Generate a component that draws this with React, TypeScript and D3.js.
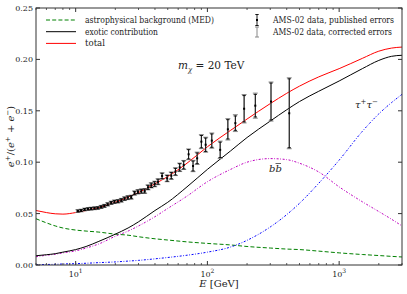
import React from 'react';
import * as d3 from 'd3';

// model curves
const modelEnergy = [5, 6, 7, 8, 10, 12, 15, 20, 25, 30, 40, 50, 70, 100, 150, 200, 300, 400, 500, 700, 1000, 1500, 2000, 2500, 3000];
const background = [0.045, 0.041, 0.038, 0.036, 0.034, 0.033, 0.032, 0.030, 0.029, 0.0275, 0.0255, 0.0243, 0.0225, 0.021, 0.0195, 0.018, 0.0165, 0.0155, 0.015, 0.0135, 0.0118, 0.0102, 0.0092, 0.0084, 0.0078];
const exotic = [0.009, 0.010, 0.011, 0.0125, 0.015, 0.018, 0.023, 0.030, 0.036, 0.042, 0.053, 0.061, 0.076, 0.093, 0.111, 0.124, 0.140, 0.151, 0.159, 0.169, 0.179, 0.191, 0.199, 0.203, 0.204];
const total = [0.053, 0.051, 0.0498, 0.0495, 0.051, 0.053, 0.056, 0.061, 0.066, 0.0705, 0.079, 0.086, 0.099, 0.115, 0.131, 0.142, 0.157, 0.167, 0.174, 0.183, 0.191, 0.201, 0.208, 0.211, 0.212];
const bbbar = [0.008, 0.0095, 0.0105, 0.0118, 0.0137, 0.0165, 0.0205, 0.028, 0.033, 0.038, 0.047, 0.055, 0.067, 0.081, 0.093, 0.100, 0.1035, 0.1025, 0.099, 0.0905, 0.076, 0.0615, 0.052, 0.0445, 0.038];
const tautau = [0.0003, 0.0005, 0.0007, 0.001, 0.0013, 0.0017, 0.0023, 0.003, 0.0038, 0.0045, 0.006, 0.0073, 0.0095, 0.0125, 0.0175, 0.024, 0.037, 0.049, 0.060, 0.0795, 0.102, 0.130, 0.147, 0.158, 0.166];

// AMS-02 positron fraction points
const dataEnergy = [10.4, 11.0, 11.7, 12.4, 13.1, 13.9, 14.7, 15.6, 16.5, 17.5, 18.6, 19.7, 20.9, 22.2, 23.5, 24.9, 26.4, 28.0, 29.7, 31.5, 33.4, 35.4, 37.5, 39.8, 42.2, 45.3, 49.5, 53.2, 57.2, 61.6, 66.1, 72.0, 77.8, 83.6, 90.0, 97.0, 108, 125, 143, 163, 190, 231, 304, 418];
const dataFraction = [0.0525, 0.053, 0.054, 0.0545, 0.0548, 0.0552, 0.0555, 0.0565, 0.0575, 0.059, 0.0605, 0.0615, 0.062, 0.063, 0.0645, 0.0655, 0.066, 0.070, 0.0712, 0.0718, 0.072, 0.0755, 0.0775, 0.0788, 0.081, 0.0866, 0.0843, 0.0869, 0.0908, 0.095, 0.0973, 0.1077, 0.0963, 0.1038, 0.120, 0.117, 0.121, 0.112, 0.132, 0.138, 0.152, 0.155, 0.159, 0.1476];
const errPublished = [0.0009, 0.0009, 0.0009, 0.001, 0.001, 0.001, 0.001, 0.0011, 0.0011, 0.0012, 0.0012, 0.0013, 0.0013, 0.0014, 0.0014, 0.0015, 0.0015, 0.0016, 0.0017, 0.0018, 0.0019, 0.002, 0.0021, 0.0022, 0.0024, 0.0026, 0.0028, 0.003, 0.0032, 0.0035, 0.0038, 0.0045, 0.0048, 0.0052, 0.006, 0.0065, 0.0065, 0.0075, 0.0094, 0.007, 0.0128, 0.011, 0.018, 0.0335];
const errCorrected = [0.0013, 0.0013, 0.0013, 0.0014, 0.0014, 0.0014, 0.0014, 0.0015, 0.0015, 0.0016, 0.0016, 0.0017, 0.0017, 0.0018, 0.0018, 0.0019, 0.0019, 0.002, 0.0021, 0.0022, 0.0023, 0.0024, 0.0025, 0.0027, 0.0029, 0.0031, 0.0033, 0.0036, 0.0038, 0.0041, 0.0044, 0.0052, 0.0055, 0.006, 0.0068, 0.0073, 0.0074, 0.0085, 0.0104, 0.0082, 0.0138, 0.0122, 0.019, 0.0345];

const yTicks = [0, 0.05, 0.1, 0.15, 0.2, 0.25];
const xTicks = [10, 100, 1000];
const xExponents = ['1', '2', '3'];

const W = 407;
const H = 294;
const FONT = '"DejaVu Serif", serif';

export default function App() {
  const left = 36, right = 402, top = 8, bottom = 265;
  const x = d3.scaleLog().domain([5, 3000]).range([left, right]);
  const y = d3.scaleLinear().domain([0, 0.25]).range([bottom, top]);

  const curve = (vals: number[]) =>
    d3.line<number>()
      .x((_, i) => x(modelEnergy[i]))
      .y(d => y(d))
      .curve(d3.curveMonotoneX)(vals) || '';

  // minor ticks on log axis
  const minor: number[] = [];
  for (const dec of [1, 10, 100, 1000]) {
    for (let k = 2; k <= 9; k++) {
      const v = dec * k;
      if (v >= 5 && v <= 3000) minor.push(v);
    }
  }

  const series = [
    { vals: background, color: '#008000', dash: '4,2.2' },
    { vals: bbbar, color: '#bf00bf', dash: '2,1.6,0.8,1.6' },
    { vals: tautau, color: '#0000ff', dash: '2,1.6,0.8,1.6' },
    { vals: exotic, color: '#000000', dash: undefined },
    { vals: total, color: '#ff0000', dash: undefined },
  ];

  const bx = 269;

  return (
    <svg width={W} height={H} style={{ position: 'absolute', left: 0, top: 0, background: '#fff', fontFamily: FONT }}>
      <defs>
        <clipPath id="plot">
          <rect x={left} y={top} width={right - left} height={bottom - top} />
        </clipPath>
      </defs>

      <g clipPath="url(#plot)">
        {series.map((s, i) => (
          <path key={i} d={curve(s.vals)} fill="none" stroke={s.color}
            strokeWidth={1} strokeDasharray={s.dash} />
        ))}

        {/* corrected errors (grey) */}
        {dataEnergy.map((e, i) => {
          const cx = x(e);
          const y1 = y(dataFraction[i] - errCorrected[i]);
          const y2 = y(dataFraction[i] + errCorrected[i]);
          return (
            <g key={'c' + i} stroke="#888" strokeWidth={1}>
              <line x1={cx} x2={cx} y1={y1} y2={y2} />
              <line x1={cx - 2.5} x2={cx + 2.5} y1={y1} y2={y1} />
              <line x1={cx - 2.5} x2={cx + 2.5} y1={y2} y2={y2} />
            </g>
          );
        })}
        {/* published errors (black) */}
        {dataEnergy.map((e, i) => {
          const cx = x(e);
          const y1 = y(dataFraction[i] - errPublished[i]);
          const y2 = y(dataFraction[i] + errPublished[i]);
          return (
            <g key={'p' + i} stroke="#000" strokeWidth={0.9}>
              <line x1={cx} x2={cx} y1={y1} y2={y2} />
              <line x1={cx - 1.7} x2={cx + 1.7} y1={y1} y2={y1} />
              <line x1={cx - 1.7} x2={cx + 1.7} y1={y2} y2={y2} />
              <rect x={cx - 1} y={y(dataFraction[i]) - 1} width={2} height={2} fill="#000" stroke="none" />
            </g>
          );
        })}
      </g>

      {/* frame */}
      <rect x={left} y={top} width={right - left} height={bottom - top} fill="none" stroke="#333" strokeWidth={1} />

      {/* y ticks */}
      {yTicks.map(t => (
        <g key={'y' + t}>
          <line x1={left} x2={left + 4} y1={y(t)} y2={y(t)} stroke="#333" />
          <line x1={right} x2={right - 4} y1={y(t)} y2={y(t)} stroke="#333" />
          <text x={left - 3} y={y(t) + 3} fontSize={8} textAnchor="end" fill="#222">{t.toFixed(2)}</text>
        </g>
      ))}

      {/* x ticks */}
      {xTicks.map((t, i) => (
        <g key={'x' + t}>
          <line x1={x(t)} x2={x(t)} y1={bottom} y2={bottom - 4} stroke="#333" />
          <line x1={x(t)} x2={x(t)} y1={top} y2={top + 4} stroke="#333" />
          <text x={x(t)} y={bottom + 12} fontSize={8} textAnchor="middle" fill="#222">
            10<tspan dy={-4} fontSize={6}>{xExponents[i]}</tspan>
          </text>
        </g>
      ))}
      {minor.map(t => (
        <g key={'m' + t}>
          <line x1={x(t)} x2={x(t)} y1={bottom} y2={bottom - 2} stroke="#333" strokeWidth={0.8} />
          <line x1={x(t)} x2={x(t)} y1={top} y2={top + 2} stroke="#333" strokeWidth={0.8} />
        </g>
      ))}

      {/* axis labels */}
      <text x={(left + right) / 2} y={287} fontSize={10} textAnchor="middle" fill="#222">
        <tspan fontStyle="italic">E</tspan> [GeV]
      </text>
      <text transform={`translate(14,${(top + bottom) / 2}) rotate(-90)`} fontSize={10} textAnchor="middle" fill="#222">
        <tspan fontStyle="italic">e</tspan><tspan dy={-4} fontSize={7}>+</tspan>
        <tspan dy={4}>/(</tspan><tspan fontStyle="italic">e</tspan><tspan dy={-4} fontSize={7}>+</tspan>
        <tspan dy={4}> + </tspan><tspan fontStyle="italic">e</tspan><tspan dy={-4} fontSize={7}>−</tspan>
        <tspan dy={4}>)</tspan>
      </text>

      {/* annotations */}
      <text x={178} y={69} fontSize={10.5} fill="#222">
        <tspan fontStyle="italic">m</tspan><tspan dy={2.5} fontSize={7} fontStyle="italic">χ</tspan>
        <tspan dy={-2.5}> = 20 TeV</tspan>
      </text>
      <text x={bx} y={172} fontSize={10} fill="#222" fontStyle="italic">bb</text>
      <line x1={bx + 6.5} x2={bx + 12} y1={163.5} y2={163.5} stroke="#222" strokeWidth={0.7} />
      <text x={355} y={108} fontSize={10} fill="#222" fontStyle="italic">
        τ<tspan dy={-4} fontSize={7}>+</tspan><tspan dy={4}>τ</tspan><tspan dy={-4} fontSize={7}>−</tspan>
      </text>

      {/* left legend */}
      {[
        { label: 'astrophysical background (MED)', color: '#008000', dash: '4,2.2', len: 129 },
        { label: 'exotic contribution', color: '#000', dash: undefined, len: 73 },
        { label: 'total', color: '#ff0000', dash: undefined, len: 20 },
      ].map((d, i) => {
        const ly = 20 + i * 11.7;
        return (
          <g key={d.label}>
            <line x1={46} x2={76} y1={ly} y2={ly} stroke={d.color} strokeDasharray={d.dash} />
            <text x={85} y={ly + 3} fontSize={8.4} fill="#222" textLength={d.len} lengthAdjust="spacingAndGlyphs">{d.label}</text>
          </g>
        );
      })}

      {/* right legend */}
      <g stroke="#000" strokeWidth={0.9}>
        <line x1={257} x2={257} y1={14.5} y2={25.5} />
        <line x1={255.3} x2={258.7} y1={14.5} y2={14.5} />
        <line x1={255.3} x2={258.7} y1={25.5} y2={25.5} />
        <rect x={256} y={19} width={2} height={2} fill="#000" stroke="none" />
      </g>
      <g stroke="#888" strokeWidth={1}>
        <line x1={257} x2={257} y1={27} y2={37} />
        <line x1={255} x2={259} y1={27} y2={27} />
        <line x1={255} x2={259} y1={37} y2={37} />
      </g>
      <text x={273} y={23} fontSize={8.4} fill="#222" textLength={121} lengthAdjust="spacingAndGlyphs">AMS-02 data, published errors</text>
      <text x={273} y={35} fontSize={8.4} fill="#222" textLength={119} lengthAdjust="spacingAndGlyphs">AMS-02 data, corrected errors</text>
    </svg>
  );
}
